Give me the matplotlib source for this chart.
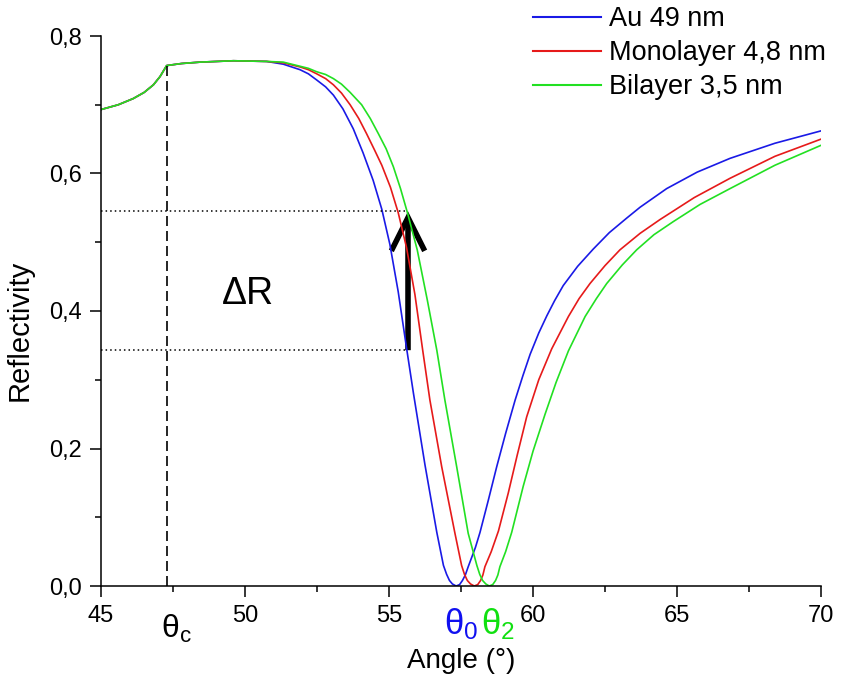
import matplotlib
matplotlib.use("Agg")
import matplotlib.pyplot as plt
from matplotlib.ticker import MultipleLocator, FuncFormatter
from matplotlib.patches import FancyArrowPatch

plt.rcParams['font.family'] = ['Liberation Sans', 'DejaVu Sans']
plt.rcParams['mathtext.fontset'] = 'custom'
plt.rcParams['mathtext.rm'] = 'Liberation Sans'

# SPR reflectivity curves (angle in degrees, reflectivity)
angle_au = [45.0, 45.6, 46.12, 46.5, 46.82, 47.05, 47.28, 47.8, 48.44, 49.6,
            50.75, 51.33, 51.91, 52.2, 52.49, 52.8, 53.07, 53.4, 53.76, 54.1,
            54.45, 54.75, 55.03, 55.32, 55.61, 55.85, 56.25, 56.66, 56.89, 57.0,
            57.1, 57.2, 57.33, 57.45, 57.55, 57.65, 57.75, 58.0, 58.16, 58.45,
            58.74, 59.05, 59.38, 59.65, 59.9, 60.2, 60.48, 60.75, 61.05, 61.55,
            62.09, 62.65, 63.25, 63.72, 64.64, 65.7, 66.84, 68.4, 70.0]
refl_au = [0.693, 0.700, 0.709, 0.718, 0.729, 0.741, 0.757, 0.760, 0.762, 0.764,
           0.763, 0.759, 0.751, 0.745, 0.736, 0.726, 0.714, 0.694, 0.665, 0.630,
           0.590, 0.548, 0.497, 0.428, 0.346, 0.280, 0.176, 0.078, 0.030, 0.017,
           0.008, 0.003, 0.0, 0.002, 0.008, 0.016, 0.028, 0.056, 0.078, 0.125,
           0.1735, 0.222, 0.2705, 0.306, 0.337, 0.368, 0.393, 0.415, 0.437, 0.465,
           0.490, 0.514, 0.535, 0.551, 0.578, 0.602, 0.622, 0.644, 0.662]

angle_mono = [45.0, 45.6, 46.12, 46.5, 46.82, 47.05, 47.28, 47.8, 48.44, 49.6,
              50.75, 51.33, 51.91, 52.2, 52.49, 52.8, 53.07, 53.35, 53.65, 53.95,
              54.22, 54.5, 54.75, 55.05, 55.32, 55.61, 55.90, 56.17, 56.42, 56.83,
              57.29, 57.52, 57.62, 57.72, 57.83, 57.96, 58.08, 58.18, 58.26, 58.33,
              58.55, 58.80, 59.14, 59.45, 59.78, 60.2, 60.65, 61.23, 61.6, 61.98,
              62.5, 63.02, 63.72, 64.41, 65.6, 66.84, 68.4, 70.0]
refl_mono = [0.693, 0.700, 0.709, 0.718, 0.729, 0.741, 0.757, 0.760, 0.762, 0.764,
             0.763, 0.761, 0.755, 0.751, 0.745, 0.738, 0.729, 0.717, 0.700, 0.680,
             0.658, 0.634, 0.612, 0.580, 0.543, 0.492, 0.424, 0.343, 0.2705, 0.1735,
             0.0766, 0.030, 0.017, 0.008, 0.003, 0.0, 0.002, 0.008, 0.016, 0.028,
             0.050, 0.080, 0.135, 0.190, 0.246, 0.300, 0.345, 0.392, 0.418, 0.440,
             0.466, 0.489, 0.513, 0.533, 0.565, 0.593, 0.625, 0.650]

angle_bi = [45.0, 45.6, 46.12, 46.5, 46.82, 47.05, 47.28, 47.8, 48.44, 49.6,
            50.75, 51.33, 51.91, 52.2, 52.49, 52.8, 53.07, 53.35, 53.65, 54.05,
            54.35, 54.63, 54.9, 55.15, 55.4, 55.64, 55.98, 56.33, 56.66, 56.94,
            57.35, 57.75, 58.05, 58.15, 58.25, 58.36, 58.48, 58.6, 58.7, 58.78,
            58.85, 59.05, 59.26, 59.66, 60.0, 60.42, 60.8, 61.23, 61.81, 62.2,
            62.56, 63.1, 63.6, 64.2, 64.87, 65.8, 66.84, 68.4, 70.0]
refl_bi = [0.693, 0.700, 0.709, 0.718, 0.729, 0.741, 0.757, 0.760, 0.762, 0.764,
           0.763, 0.762, 0.756, 0.753, 0.748, 0.744, 0.738, 0.730, 0.718, 0.700,
           0.680, 0.658, 0.636, 0.610, 0.578, 0.543, 0.489, 0.416, 0.343, 0.2705,
           0.1735, 0.0766, 0.030, 0.017, 0.008, 0.003, 0.0, 0.002, 0.008, 0.016,
           0.028, 0.050, 0.078, 0.145, 0.196, 0.250, 0.296, 0.342, 0.392, 0.418,
           0.440, 0.467, 0.489, 0.511, 0.530, 0.555, 0.578, 0.612, 0.641]

series_labels = ["Au 49 nm", "Monolayer 4,8 nm", "Bilayer 3,5 nm"]
series_colors = ["#1a1ae6", "#e61a1a", "#22e022"]

theta_c = 47.28          # critical angle
arrow_angle = 55.66      # angle at which the reflectivity change is read
r_low, r_high = 0.343, 0.545

fig = plt.figure(figsize=(8.42, 6.75), dpi=100)
ax = fig.add_axes([101 / 842, 1 - 586 / 675, 720 / 842, 550 / 675])

for a, r, lab, col in zip([angle_au, angle_mono, angle_bi],
                          [refl_au, refl_mono, refl_bi],
                          series_labels, series_colors):
    ax.plot(a, r, color=col, lw=1.2, label=lab, solid_joinstyle="round")

ax.set_xlim(45, 70)
ax.set_ylim(0, 0.8)

for s in ("top", "right"):
    ax.spines[s].set_visible(False)
for s in ("left", "bottom"):
    ax.spines[s].set_linewidth(1.1)

ax.xaxis.set_major_locator(MultipleLocator(5))
ax.xaxis.set_minor_locator(MultipleLocator(2.5))
ax.yaxis.set_major_locator(MultipleLocator(0.2))
ax.yaxis.set_minor_locator(MultipleLocator(0.1))
ax.yaxis.set_major_formatter(FuncFormatter(lambda v, p: f"{v:.1f}".replace(".", ",")))
ax.tick_params(which="major", direction="out", length=8, width=1.1,
               labelsize=17, pad=6)
ax.tick_params(which="minor", direction="out", length=4.5, width=1.1)

ax.set_xlabel("Angle (°)", fontsize=20)
ax.set_ylabel("Reflectivity", fontsize=21)
ax.xaxis.set_label_coords(0.5, -0.112)
ax.yaxis.set_label_coords(-0.094, 0.465)

# critical angle marker
ax.plot([theta_c, theta_c], [0, 0.757], color="black", lw=1.2,
        linestyle=(0, (6, 3)))

# reflectivity change guides
ax.plot([45, arrow_angle], [r_high, r_high], color="black", lw=1.1,
        linestyle=(0, (1, 2)), clip_on=False)
ax.plot([45, arrow_angle], [r_low, r_low], color="black", lw=1.1,
        linestyle=(0, (1, 2)), clip_on=False)
arrow = FancyArrowPatch((arrow_angle, r_low), (arrow_angle, r_high),
                        arrowstyle="->,head_length=24,head_width=12",
                        mutation_scale=1, lw=4, color="black",
                        shrinkA=0, shrinkB=0, capstyle="butt", joinstyle="miter")
ax.add_patch(arrow)
ax.text(49.2, 0.41, "ΔR", fontsize=27, ha="left", va="baseline")

# resonance angle labels
ax.text(47.1, -0.076, r"$\mathregular{θ_c}$", fontsize=23, ha="left",
        va="baseline", clip_on=False)
ax.text(56.9, -0.070, r"$\mathregular{θ_0}$", fontsize=25, ha="left",
        va="baseline", color="#1010f0", clip_on=False)
ax.text(58.2, -0.070, r"$\mathregular{θ_2}$", fontsize=25, ha="left",
        va="baseline", color="#10e010", clip_on=False)

leg = ax.legend(loc="upper left", bbox_to_anchor=(533 / 842, 1 - 6 / 675),
                bbox_transform=fig.transFigure, frameon=False, fontsize=19.5,
                handlelength=2.5, handletextpad=0.3, labelspacing=0.3,
                borderpad=0.0, borderaxespad=0.0)
for h in leg.get_lines():
    h.set_linewidth(1.5)

fig.savefig("out.png", dpi=100)
